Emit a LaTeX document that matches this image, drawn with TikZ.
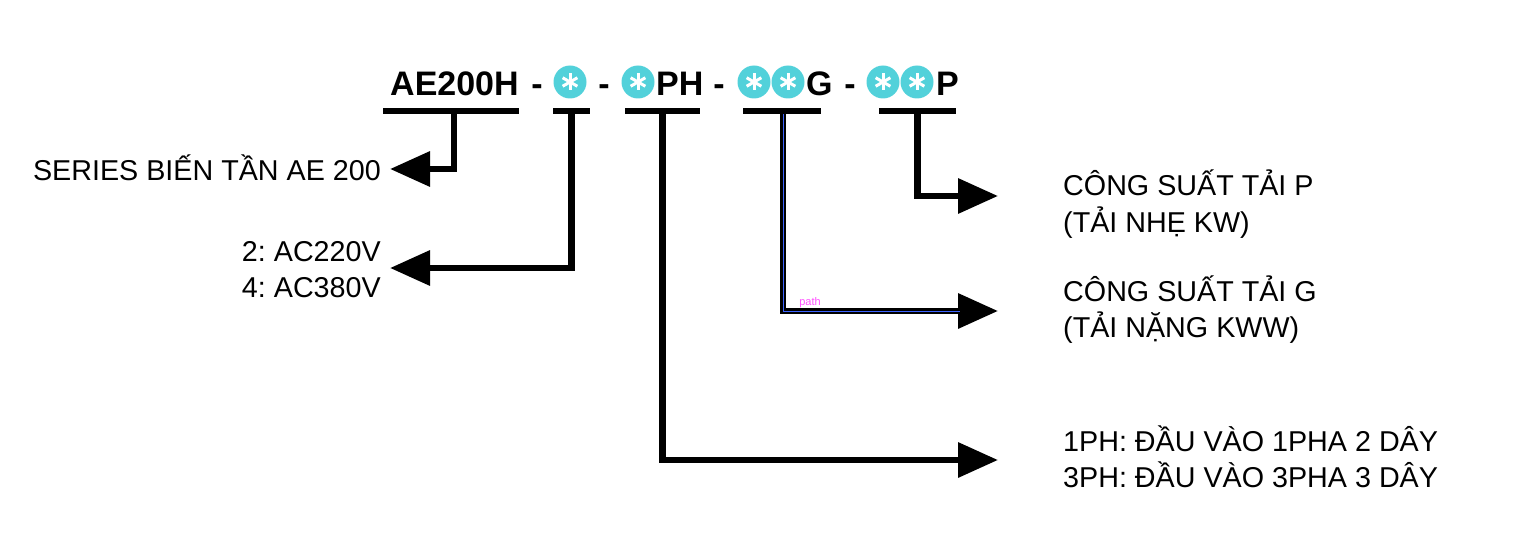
\documentclass[tikz,border=0pt]{standalone}
\usepackage{fontspec}
\setmainfont{Liberation Sans}
\usetikzlibrary{arrows.meta}
\frenchspacing
\definecolor{starcyan}{RGB}{82,209,218}
\definecolor{selblue}{RGB}{60,100,255}
\definecolor{selpink}{RGB}{255,80,255}
\tikzset{
  codetext/.style={font=\fontsize{34}{40}\selectfont\bfseries, inner sep=0pt, anchor=base west},
  starmark/.style={circle, fill=starcyan, minimum size=33pt, inner sep=0pt,
    path picture={\foreach \a in {90,30,-30}
      \draw[white, line width=3pt] (path picture bounding box.center) ++(\a:8.5pt) -- ++(\a+180:17pt);}},
  underbar/.style={fill=black, inner sep=0pt, minimum height=6pt},
  lead/.style={line width=6.5pt, -{Triangle[length=40pt,width=34pt]}},
  lbl/.style={font=\fontsize{28.7}{36}\selectfont, inner sep=0pt, align=left}
}
\begin{document}
\begin{tikzpicture}[x=1pt,y=-1pt]
\useasboundingbox (0,0) rectangle (1514,556);
% model code
\node[codetext] (ae) at (390,96) {AE200H};
\node[codetext, anchor=base] (h1) at (537,96) {-};
\node[starmark] (s1) at (570,82) {};
\node[codetext, anchor=base] (h2) at (604,96) {-};
\node[starmark] (s2) at (638,82) {};
\node[codetext] (ph) at (656,96) {PH};
\node[codetext, anchor=base] (h3) at (719,96) {-};
\node[starmark] (s3) at (754,82) {};
\node[starmark] (s4) at (788,82) {};
\node[codetext] (g) at (806,96) {G};
\node[codetext, anchor=base] (h4) at (850,96) {-};
\node[starmark] (s5) at (883,82) {};
\node[starmark] (s6) at (917,82) {};
\node[codetext] (p) at (936,96) {P};
% underlines
\node[underbar, minimum width=136pt] (u1) at (451,111) {};
\node[underbar, minimum width=37pt] (u2) at (571.5,111) {};
\node[underbar, minimum width=75pt] (u3) at (662.5,111) {};
\node[underbar, minimum width=78pt] (u4) at (782,111) {};
\node[underbar, minimum width=77pt] (u5) at (917.5,111) {};
% labels (base = last line)
\node[lbl, anchor=base east] (series) at (381,181) {SERIES BIẾN TẦN AE 200};
\node[lbl, anchor=base east] (volt) at (381,297) {2: AC220V\\4: AC380V};
\node[lbl, anchor=base west] (loadp) at (1063,232) {CÔNG SUẤT TẢI P\\(TẢI NHẸ KW)};
\node[lbl, anchor=base west] (loadg) at (1063,337) {CÔNG SUẤT TẢI G\\(TẢI NẶNG KWW)};
\node[lbl, anchor=base west] (phase) at (1063,487) {1PH: ĐẦU VÀO 1PHA 2 DÂY\\3PH: ĐẦU VÀO 3PHA 3 DÂY};
% arrow ends
\coordinate (endA) at (390,169);
\coordinate (endB) at (390,268);
\coordinate (endC) at (998,460);
\coordinate (endD) at (998,311);
\coordinate (endE) at (998,196);
\draw[lead] ([xshift=3pt]u1.center) |- (endA);
\draw[lead] (u2.center) |- (endB);
\draw[lead] (u3.center) |- (endC);
\draw[lead] ([xshift=1pt]u4.center) |- (endD);
\draw[lead] (u5.center) |- (endE);
% selection mark
\draw[selblue, line width=1pt] ([xshift=1pt]u4.south) |- ([xshift=-38pt]endD);
\node[selpink, font=\fontsize{11}{12}\selectfont, inner sep=0pt] (sel) at (810,303) {path};
\end{tikzpicture}
\end{document}
